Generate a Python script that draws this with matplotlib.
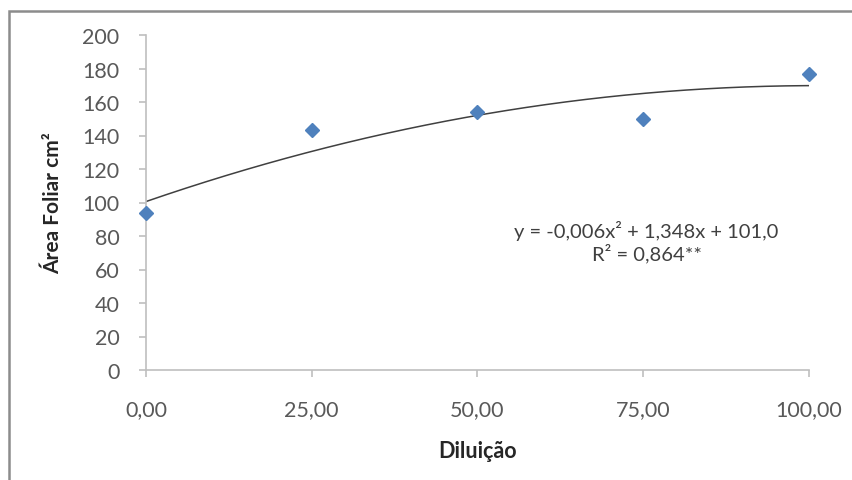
import numpy as np
import matplotlib.pyplot as plt
from matplotlib.patches import Rectangle

# Dados
diluicao = [0, 25, 50, 75, 100]
area_foliar = [94, 143, 154, 150, 177]
x_ticks = [0, 25, 50, 75, 100]
x_labels = ['0,00', '25,00', '50,00', '75,00', '100,00']
y_ticks = [0, 20, 40, 60, 80, 100, 120, 140, 160, 180, 200]
equacao = 'y = -0,006x² + 1,348x + 101,0\nR² = 0,864**'

plt.rcParams['font.family'] = ['Lato', 'DejaVu Sans']
grey = '#595959'

fig = plt.figure(figsize=(8.53, 4.81), dpi=100)
ax = fig.add_axes([146 / 853, 1 - 371 / 481, (809 - 146) / 853, (371 - 36) / 481])

# moldura do grafico (estilo Excel)
fig.patches.append(Rectangle((9 / 853, -0.05), 1.0, 1 - 12 / 481 + 0.05,
                             transform=fig.transFigure, fill=False,
                             edgecolor='#8c8c8c', linewidth=1.8))

# linha de tendencia polinomial (2a ordem) ajustada aos pontos
coef = np.polyfit(diluicao, area_foliar, 2)
xs = np.linspace(0, 100, 200)
ax.plot(xs, np.polyval(coef, xs), color='#404040', linewidth=1.1, zorder=2)

ax.plot(diluicao, area_foliar, linestyle='none', marker='D', markersize=7.5,
        color='#4F81BD', markeredgecolor='#4F81BD', zorder=3, clip_on=False)

ax.set_xlim(0, 100)
ax.set_ylim(0, 200)
ax.set_xticks(x_ticks)
ax.set_xticklabels(x_labels)
ax.set_yticks(y_ticks)

for s in ['top', 'right']:
    ax.spines[s].set_visible(False)
for s in ['left', 'bottom']:
    ax.spines[s].set_color('#bfbfbf')
    ax.spines[s].set_linewidth(1.2)
ax.tick_params(axis='both', colors='#bfbfbf', labelcolor=grey, labelsize=15.5,
               length=5, width=1.2, direction='out')
ax.tick_params(axis='x', pad=16)
ax.tick_params(axis='y', pad=14)

ax.set_xlabel('Diluição', fontsize=15.5, fontweight='bold', color='#262626', labelpad=15)
ax.set_ylabel('Área Foliar cm²', fontsize=15, fontweight='bold', color='#262626', labelpad=14)

ax.text(0.755, 0.384, equacao, transform=ax.transAxes, ha='center', va='center',
        fontsize=14.5, color='#404040', linespacing=1.15)

fig.savefig('out.png', dpi=100)
